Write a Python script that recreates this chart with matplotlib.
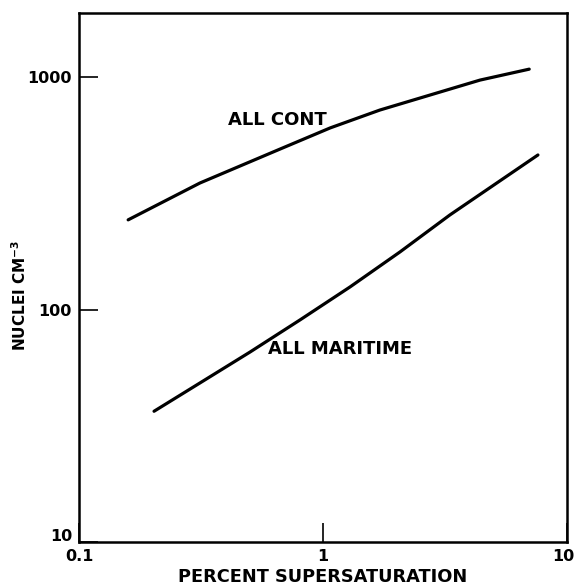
import numpy as np
import matplotlib
matplotlib.use("Agg")
import matplotlib.pyplot as plt
import matplotlib.transforms as mtransforms
from matplotlib.ticker import FixedLocator, FixedFormatter, NullLocator

# ---------- data ----------
cont_x = [0.159, 0.313, 0.667, 1.07, 1.71, 2.75, 4.40, 7.0]
cont_y = [243, 350, 490, 604, 721, 837, 970, 1081]

mari_x = [0.203, 0.313, 0.502, 0.805, 1.29, 2.07, 3.31, 7.6]
mari_y = [36.5, 48.3, 65.6, 90.2, 125, 177, 255, 462]

x_ticks = [0.1, 1, 10]
x_ticklabels = ["0.1", "1", "10"]
y_ticks = [10, 100, 1000]
y_ticklabels = ["10", "100", "1000"]

# ---------- plot ----------
plt.rcParams["font.family"] = "DejaVu Sans"

fig = plt.figure(figsize=(5.75, 5.86), dpi=100)
ax = fig.add_axes([0.1374, 0.0751, 0.8487, 0.9027])

ax.plot(cont_x, cont_y, color="black", linewidth=2.3, solid_capstyle="round",
        solid_joinstyle="round")
ax.plot(mari_x, mari_y, color="black", linewidth=2.3, solid_capstyle="round",
        solid_joinstyle="round")

ax.set_xscale("log")
ax.set_yscale("log")
ax.set_xlim(0.1, 10)
ax.set_ylim(10, 1885)

ax.xaxis.set_major_locator(FixedLocator(x_ticks))
ax.xaxis.set_major_formatter(FixedFormatter(x_ticklabels))
ax.yaxis.set_major_locator(FixedLocator(y_ticks))
ax.yaxis.set_major_formatter(FixedFormatter(y_ticklabels))
ax.xaxis.set_minor_locator(NullLocator())
ax.yaxis.set_minor_locator(NullLocator())

ax.tick_params(which="major", direction="in", length=14, width=1.2,
               labelsize=11.5, pad=5)
for lab in ax.get_xticklabels() + ax.get_yticklabels():
    lab.set_fontweight("bold")

for sp in ax.spines.values():
    sp.set_linewidth(1.8)

ax.text(0.408, 653, "ALL CONT", fontsize=13, fontweight="bold",
        ha="left", va="center")
ax.text(0.595, 67.6, "ALL MARITIME", fontsize=13, fontweight="bold",
        ha="left", va="center")

fig.text(323 / 575, 1 - 577 / 586, "PERCENT SUPERSATURATION", fontsize=12.8,
         fontweight="bold", ha="center", va="center")
fig.text(20 / 575, 1 - 295 / 586, "NUCLEI CM$^{\\mathbf{-3}}$", fontsize=11,
         fontweight="bold", rotation=90, ha="center", va="center")

# nudge the corner labels like in the original drawing
fig.canvas.draw()
ylab10 = ax.yaxis.get_major_ticks()[0].label1
ylab10.set_transform(ylab10.get_transform() +
                     mtransforms.ScaledTranslation(0, 7 / 100, fig.dpi_scale_trans))
xlab10 = ax.xaxis.get_major_ticks()[-1].label1
xlab10.set_transform(xlab10.get_transform() +
                     mtransforms.ScaledTranslation(-4 / 100, 0, fig.dpi_scale_trans))

fig.savefig("out.png", dpi=100)
